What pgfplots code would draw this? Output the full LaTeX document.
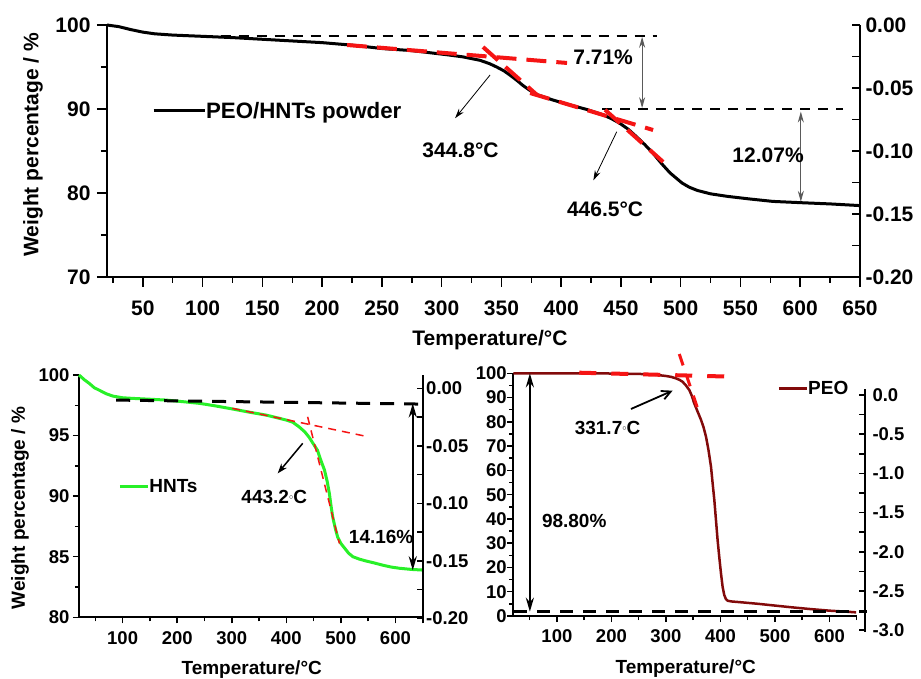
\documentclass[border=0pt]{standalone}
\usepackage{fontspec}
\setmainfont{Liberation Sans}
\usepackage{pgfplots}
\pgfplotsset{compat=1.18}
\usetikzlibrary{arrows.meta}
\newcommand\fA{\fontsize{21}{25}\selectfont\bfseries}
\newcommand\fL{\fontsize{22.3}{26}\selectfont\bfseries}
\newcommand\fB{\fontsize{19}{23}\selectfont\bfseries}
\newcommand\fT{\fontsize{18.5}{22}\selectfont\bfseries}
\newcommand\sdeg{\raisebox{4.5pt}{\fontsize{8}{8}\selectfont$\circ$}}
\definecolor{hntgreen}{RGB}{40,240,40}
\definecolor{peored}{RGB}{130,10,10}
\definecolor{tanred}{RGB}{245,20,20}
\definecolor{arrgray}{RGB}{90,90,90}
\pgfplotsset{
 base/.style={scale only axis, anchor=south west, clip=false,
   axis line style={line width=2pt, black},
   tick style={line width=1.5pt, black},
   /pgf/number format/assume math mode=true,
   xmin=20, xmax=650,
 },
 leg/.style 2 args={legend style={draw=none, fill=none, inner sep=0pt, outer sep=0pt,
   /tikz/every even column/.style={column sep=#2}, nodes={inner sep=0pt}},
   legend image code/.code={\draw[##1] (0pt,0pt) -- (#1,0pt);}},
}
\begin{document}
\begin{tikzpicture}
%================ TOP PANEL =================
\begin{axis}[base, at={(107pt,401pt)}, width=753pt, height=252pt,
  ymin=70, ymax=100,
  axis x line*=bottom, axis y line*=left, tick align=outside,
  major tick length=10pt, minor tick length=6pt,
  xtick={50,100,...,650}, minor xtick={25,75,...,625},
  ytick={70,80,90,100}, minor ytick={75,85,95},
  tick label style={font=\fA},
  xticklabel style={yshift=-10pt},
  yticklabel style={xshift=-3pt},
  xlabel={Temperature/°C}, ylabel={Weight percentage / \%},
  label style={font=\fA},
  xlabel style={at={(axis description cs:0.5086,-0.252)}, anchor=center},
  ylabel style={at={(axis description cs:-0.0983,0.524)}, anchor=center},
  leg={51pt}{10pt}, legend style={at={(axis cs:57.7,89.8)}, anchor=west, font=\fL},
]
\addplot[black, line width=3pt, line join=round] coordinates {
(20,100.0) (30,99.8) (40,99.45) (50,99.15) (60,98.95) (75,98.8) (100,98.65)
(125,98.5) (150,98.3) (175,98.1) (200,97.9) (225,97.6) (250,97.2) (275,96.95)
(290,96.7) (305,96.45) (318,96.2) (332,95.8) (340,95.4) (346,95.0) (352,94.55)
(357,94.05) (363,93.4) (368,92.8) (374,92.2) (380,91.7) (393,91.07) (407,90.5)
(421,89.96) (435,89.3) (442,88.85) (449,88.3) (456,87.6) (463,86.7) (470,85.75)
(477,84.7) (484,83.5) (491,82.4) (496,81.8) (501,81.2) (507,80.7) (514,80.3)
(525,79.9) (539,79.6) (557,79.3) (577,79.0) (600,78.85) (625,78.7) (650,78.5)};
\addlegendentry{PEO/HNTs powder}
\addplot[forget plot, black, line width=1.8pt, dash pattern=on 10pt off 8pt] coordinates {(100,98.69) (480,98.69)};
\addplot[forget plot, black, line width=1.8pt, dash pattern=on 10pt off 8pt] coordinates {(434.2,89.96) (636,89.96)};
\addplot[forget plot, tanred, line width=4pt, dash pattern=on 20pt off 10pt] coordinates {(220.8,97.62) (404.9,95.48)};
\addplot[forget plot, tanred, line width=4pt, dash pattern=on 20pt off 10pt] coordinates {(334.6,97.38) (379.8,91.67)};
\addplot[forget plot, tanred, line width=4pt, dash pattern=on 20pt off 10pt] coordinates {(374,91.9) (476.9,87.5)};
\addplot[forget plot, tanred, line width=4pt, dash pattern=on 20pt off 10pt] coordinates {(436.7,89.9) (485.3,83.7)};
\addplot[forget plot, arrgray, line width=1.2pt, {Stealth[length=11pt,width=6pt]}-{Stealth[length=11pt,width=6pt]}] coordinates {(467.7,98.6) (467.7,90.1)};
\addplot[forget plot, arrgray, line width=1.2pt, {Stealth[length=11pt,width=6pt]}-{Stealth[length=11pt,width=6pt]}] coordinates {(600.5,89.7) (600.5,78.95)};
\addplot[forget plot, black, line width=0.8pt, -{Stealth[length=10pt,width=6pt]}] coordinates {(340.5,94.05) (311.2,88.9)};
\addplot[forget plot, black, line width=0.8pt, -{Stealth[length=10pt,width=6pt]}] coordinates {(446.5,87.3) (426.9,81.5)};
\node[font=\fA] at (axis cs:315.8,85.12) {344.8°C};
\node[font=\fA] at (axis cs:436.7,78.1) {446.5°C};
\node[font=\fA] at (axis cs:435.1,96.19) {7.71\%};
\node[font=\fA] at (axis cs:573.1,84.52) {12.07\%};
\end{axis}
\begin{axis}[base, at={(107pt,401pt)}, width=753pt, height=252pt,
  ymin=-0.2, ymax=0, axis x line=none, axis y line*=right, tick align=inside,
  major tick length=8pt, minor tick length=8pt,
  ytick={-0.2,-0.15,-0.1,-0.05,0}, minor ytick={-0.175,-0.125,-0.075,-0.025},
  yticklabel style={font=\fA, xshift=2pt, /pgf/number format/.cd, fixed, fixed zerofill, precision=2},
]
\end{axis}
%================ BOTTOM LEFT (HNTs) =================
\begin{axis}[base, at={(79pt,60.7pt)}, width=343.7pt, height=242.3pt,
  ymin=80, ymax=100,
  axis x line*=bottom, axis y line*=left, tick align=outside,
  major tick length=6pt, minor tick length=4pt,
  xtick={100,200,...,600}, minor xtick={50,150,...,650},
  ytick={80,85,...,100}, minor ytick={82.5,87.5,92.5,97.5},
  tick label style={font=\fT},
  xticklabel style={yshift=-5pt},
  xlabel={Temperature/°C}, ylabel={Weight percentage / \%},
  label style={font=\fB},
  xlabel style={at={(axis description cs:0.5025,-0.2175)}, anchor=center},
  ylabel style={at={(axis description cs:-0.1717,0.451)}, anchor=center},
  leg={28pt}{3pt}, legend style={at={(axis cs:92.1,90.77)}, anchor=west, font=\fB},
]
\addplot[hntgreen, line width=3pt, line join=round] coordinates {
(20,100) (30,99.6) (39,99.3) (48,98.95) (57,98.75) (70,98.45) (82,98.26) (100,98.12)
(118,98.07) (150,98.0) (180,97.93) (210,97.8) (241,97.66) (270,97.45) (302,97.19)
(330,96.95) (363,96.69) (385,96.45) (400,96.28) (412,96.1) (424,95.7) (434,95.3)
(442,94.85) (449,94.35) (457,93.8) (463,93.0) (470,92.15) (475,91.2) (479,90.2)
(482,89.2) (485,88.3) (490,87.3) (494,86.64) (500,86.1) (507,85.7) (514,85.3)
(522,85.0) (534,84.8) (546,84.65) (560,84.5) (577,84.3) (592,84.15) (607,84.05)
(630,83.95) (650,83.9)};
\addlegendentry{HNTs}
\addplot[forget plot, black, line width=3pt, dash pattern=on 14pt off 10pt] coordinates {(87.9,97.93) (647.2,97.6)};
\addplot[forget plot, tanred, line width=1.5pt, dash pattern=on 8pt off 6pt] coordinates {(301,97.25) (545,94.95)};
\addplot[forget plot, tanred, line width=1.5pt, dash pattern=on 8pt off 6pt] coordinates {(439.1,96.55) (497.4,86.09)};
\addplot[forget plot, black, line width=2.5pt, {Stealth[length=14pt,width=8pt]}-{Stealth[length=14pt,width=8pt]}] coordinates {(631.8,97.66) (631.8,83.88)};
\addplot[forget plot, black, line width=1.5pt, -{Stealth[length=10pt,width=7pt]}] coordinates {(430.1,94.36) (384.2,91.88)};
\node[font=\fB] at (axis cs:377.9,89.9) {443.2\sdeg C};
\node[font=\fB] at (axis cs:573.9,86.64) {14.16\%};
\end{axis}
\begin{axis}[base, at={(79pt,54.7pt)}, width=343.7pt, height=248.3pt,
  ymin=-0.2043, ymax=0.0116, axis x line=none, axis y line*=right, tick align=inside,
  major tick length=6pt, minor tick length=6pt,
  ytick={-0.2,-0.15,-0.1,-0.05,0}, minor ytick={-0.175,-0.125,-0.075,-0.025},
  yticklabel style={font=\fT, /pgf/number format/.cd, fixed, fixed zerofill, precision=2},
]
\end{axis}
%================ BOTTOM RIGHT (PEO) =================
\begin{axis}[base, at={(513.3pt,62pt)}, width=343.4pt, height=242.7pt,
  ymin=0, ymax=100,
  axis x line*=bottom, axis y line*=left, tick align=outside,
  major tick length=6pt, minor tick length=4pt,
  xtick={100,200,...,600}, minor xtick={50,150,...,650},
  ytick={0,10,...,100}, minor ytick={5,15,...,95},
  tick label style={font=\fT},
  xticklabel style={yshift=-4.5pt},
  yticklabel style={xshift=3pt},
  xlabel={Temperature/°C},
  label style={font=\fB},
  xlabel style={at={(axis description cs:0.502,-0.2155)}, anchor=center},
  leg={28pt}{3pt}, legend style={at={(axis cs:505,93.8)}, anchor=west, font=\fB},
]
\addplot[peored, line width=2.5pt, line join=round] coordinates {
(20,100) (100,100) (165,100) (220,99.85) (257,99.7) (280,99.4) (300,98.9) (310,98.5)
(318.5,97.9) (325,97.3) (330.6,96.5) (336,95.2) (342.9,93.1) (347,91) (352,87.6)
(358,84.3) (364.4,80.8) (369,77.8) (373.5,73.9) (378,68.5) (382.7,61.5) (386,54)
(388.8,47.8) (392,39) (394.8,31.3) (398,24) (401,17.6) (404,12) (407,8.65) (410,7.0)
(413.2,6.3) (420,6.0) (440.7,5.6) (470,5.0) (501.9,4.25) (530,3.6) (563,2.9)
(600,2.2) (630,1.8) (648.9,1.5)};
\addlegendentry{PEO}
\addplot[forget plot, black, line width=3pt, dash pattern=on 13pt off 10pt] coordinates {(21.6,1.77) (669.7,1.77)};
\addplot[forget plot, tanred, line width=4pt, dash pattern=on 17pt off 15pt] coordinates {(141,100.25) (422.4,98.6)};
\addplot[forget plot, tanred, line width=3pt, dash pattern=on 12pt off 10pt] coordinates {(324.5,107.95) (358.1,85.58)};
\addplot[forget plot, black, line width=2.5pt, {Stealth[length=14pt,width=8pt]}-{Stealth[length=14pt,width=8pt]}] coordinates {(50.4,100) (50.4,1.77)};
\addplot[forget plot, black, line width=1.8pt, -{Straight Barb[length=9pt,width=9pt]}] coordinates {(235.9,85.3) (312.2,92.83)};
\node[font=\fB] at (axis cs:192.9,77.3) {331.7\sdeg C};
\node[font=\fB] at (axis cs:131.8,39.3) {98.80\%};
\end{axis}
\begin{axis}[base, at={(513.3pt,46.3pt)}, width=351.7pt, height=242.4pt,
  ymin=-3.02, ymax=0.073, axis x line=none, axis y line*=right, tick align=inside,
  major tick length=6pt, minor tick length=6pt,
  ytick={-3,-2.5,-2,-1.5,-1,-0.5,0}, minor ytick={-2.75,-2.25,-1.75,-1.25,-0.75,-0.25},
  yticklabel style={font=\fT, xshift=4pt, /pgf/number format/.cd, fixed, fixed zerofill, precision=1},
]
\end{axis}
\pgfresetboundingbox
\path[use as bounding box] (0,0) rectangle (921pt,678pt);
\end{tikzpicture}
\end{document}
